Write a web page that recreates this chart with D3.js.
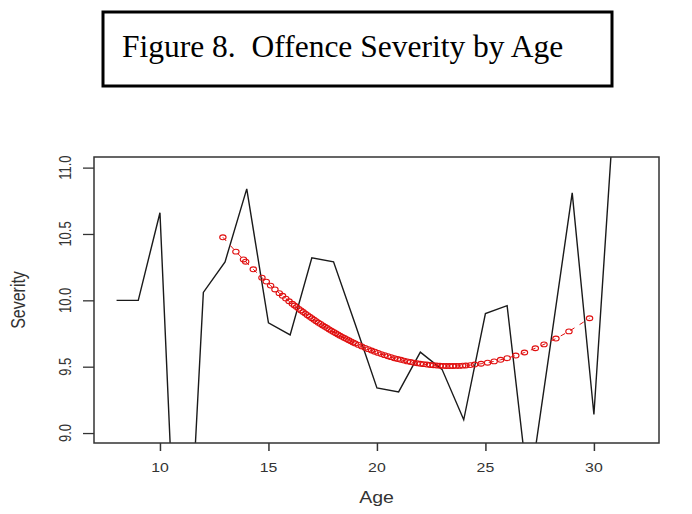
<!DOCTYPE html>
<meta charset="utf-8">
<style>
body { margin: 0; background: #fff; }
svg { display: block; background: #fff; }
.tk { font-family: 'Liberation Sans', Arial, sans-serif; font-size: 13px; fill: #333; }
.lab { font-family: 'Liberation Sans', Arial, sans-serif; font-size: 16px; fill: #333; }
.title { font-family: 'Liberation Serif', 'Times New Roman', serif; font-size: 31.5px; fill: #000; }
</style>
<svg width="692" height="514"></svg>
<script src="https://d3js.org/d3.v7.min.js"></script>
<script>

// observed mean severity by age (black line)
var ages = [8, 9, 10, 11, 12, 13, 14, 15, 16, 17, 18, 19, 20, 21, 22, 23, 24, 25, 26, 27, 28, 29, 30, 31];
var severity = [10.0, 10.0, 10.66, 6.95, 10.06, 10.29, 10.84, 9.83, 9.74, 10.32, 10.29, 9.82, 9.34, 9.31,
                9.61, 9.48, 9.10, 9.90, 9.96, 8.54, 9.67, 10.81, 9.14, 11.62];

// fitted values (red circles)
var fitAges = [12.9, 13.5, 13.85, 13.95, 14.3, 14.7, 14.9, 15.1, 15.3, 15.5, 15.65, 15.8, 15.95, 16.1, 16.2,
               16.3, 16.4, 16.5, 16.6, 16.7, 16.8, 16.9, 17.0, 17.1, 17.2, 17.3, 17.4, 17.5, 17.6, 17.7, 17.8,
               17.9, 18.0, 18.1, 18.2, 18.3, 18.4, 18.5, 18.6, 18.7, 18.8, 18.9, 19.0, 19.15, 19.3, 19.45, 19.6,
               19.75, 19.9, 20.05, 20.2, 20.35, 20.5, 20.65, 20.8, 20.95, 21.1, 21.25, 21.4, 21.55, 21.7, 21.85,
               22.0, 22.15, 22.3, 22.45, 22.6, 22.75, 22.9, 23.05, 23.2, 23.35, 23.5, 23.65, 23.8, 23.95, 24.1,
               24.3, 24.5, 24.8, 25.1, 25.4, 25.7, 26.0, 26.4, 26.8, 27.3, 27.7, 28.25, 28.85, 29.8];
var fitSeverity = [10.475, 10.367, 10.308, 10.291, 10.234, 10.171, 10.141, 10.111, 10.082, 10.054, 10.034, 10.013,
                   9.993, 9.974, 9.961, 9.949, 9.936, 9.924, 9.912, 9.900, 9.888, 9.877, 9.865, 9.854, 9.843,
                   9.832, 9.822, 9.811, 9.801, 9.791, 9.781, 9.771, 9.762, 9.752, 9.743, 9.734, 9.725, 9.716,
                   9.708, 9.699, 9.691, 9.683, 9.675, 9.664, 9.653, 9.642, 9.632, 9.622, 9.613, 9.604, 9.595,
                   9.587, 9.579, 9.572, 9.564, 9.558, 9.552, 9.546, 9.540, 9.535, 9.530, 9.526, 9.522, 9.519,
                   9.516, 9.513, 9.511, 9.509, 9.507, 9.506, 9.505, 9.505, 9.505, 9.506, 9.506, 9.508, 9.509,
                   9.512, 9.516, 9.522, 9.530, 9.540, 9.552, 9.564, 9.584, 9.607, 9.639, 9.668, 9.712, 9.766, 9.865];

var xTicks = [10, 15, 20, 25, 30];
var yTicks = [9.0, 9.5, 10.0, 10.5, 11.0];
var titleText = "Figure 8.  Offence Severity by Age";

var svg = d3.select("svg"),
    box = {left: 94, right: 659, top: 157, bottom: 443},
    stretch = 1.22;

var x = d3.scaleLinear().domain([6.96, 33.0]).range([box.left, box.right]);
var y = d3.scaleLinear().domain([8.925, 11.08]).range([box.bottom, box.top]);

// title box
svg.append("rect")
    .attr("x", 103).attr("y", 12)
    .attr("width", 509).attr("height", 74)
    .attr("fill", "none").attr("stroke", "#000").attr("stroke-width", 3);

svg.append("text")
    .attr("class", "title")
    .attr("x", 122).attr("y", 57)
    .attr("xml:space", "preserve")
    .style("white-space", "pre")
    .text(titleText);

svg.append("clipPath").attr("id", "clip")
  .append("rect")
    .attr("x", box.left).attr("y", box.top)
    .attr("width", box.right - box.left).attr("height", box.bottom - box.top);

var plot = svg.append("g").attr("clip-path", "url(#clip)");

var line = d3.line()
    .x(function(d, i) { return x(ages[i]); })
    .y(function(d) { return y(d); });

plot.append("path")
    .datum(severity)
    .attr("d", line)
    .attr("fill", "none")
    .attr("stroke", "#1a1a1a")
    .attr("stroke-width", 1.4);

var fitLine = d3.line()
    .x(function(d, i) { return x(fitAges[i]); })
    .y(function(d) { return y(d); });

plot.append("path")
    .datum(fitSeverity)
    .attr("d", fitLine)
    .attr("fill", "none")
    .attr("stroke", "#e01010")
    .attr("stroke-width", 1)
    .attr("stroke-dasharray", "5,6");

plot.selectAll(".pt")
    .data(fitSeverity)
  .enter().append("ellipse")
    .attr("class", "pt")
    .attr("cx", function(d, i) { return x(fitAges[i]); })
    .attr("cy", function(d) { return y(d); })
    .attr("rx", 3.2).attr("ry", 2.4)
    .attr("fill", "none")
    .attr("stroke", "#e01010")
    .attr("stroke-width", 1.1);

// frame
svg.append("rect")
    .attr("x", box.left).attr("y", box.top)
    .attr("width", box.right - box.left).attr("height", box.bottom - box.top)
    .attr("fill", "none").attr("stroke", "#333").attr("stroke-width", 1.5);

// x axis
svg.append("g")
    .attr("transform", "translate(0," + box.bottom + ")")
    .call(d3.axisBottom(x).tickValues(xTicks).tickSize(8).tickFormat(""))
    .call(function(g) { g.select(".domain").remove(); })
    .selectAll("line").attr("stroke", "#333").attr("stroke-width", 1.5);

svg.selectAll(".xl")
    .data(xTicks)
  .enter().append("text")
    .attr("class", "tk")
    .attr("text-anchor", "middle")
    .attr("transform", function(d) { return "translate(" + x(d) + ",472) scale(" + stretch + ",1)"; })
    .text(function(d) { return d; });

// y axis
svg.append("g")
    .attr("transform", "translate(" + box.left + ",0)")
    .call(d3.axisLeft(y).tickValues(yTicks).tickSize(11).tickFormat(""))
    .call(function(g) { g.select(".domain").remove(); })
    .selectAll("line").attr("stroke", "#333").attr("stroke-width", 1.3);

svg.selectAll(".yl")
    .data(yTicks)
  .enter().append("text")
    .attr("class", "tk")
    .attr("text-anchor", "middle")
    .attr("transform", function(d) { return "translate(71," + y(d) + ") scale(" + stretch + ",1) rotate(-90)"; })
    .text(function(d) { return d.toFixed(1); });

svg.append("text")
    .attr("class", "lab")
    .attr("text-anchor", "middle")
    .attr("transform", "translate(" + (box.left + box.right) / 2 + ",503) scale(" + stretch + ",1)")
    .text("Age");

svg.append("text")
    .attr("class", "lab")
    .attr("text-anchor", "middle")
    .attr("transform", "translate(25," + (box.top + box.bottom) / 2 + ") scale(" + stretch + ",1) rotate(-90)")
    .text("Severity");

</script>
